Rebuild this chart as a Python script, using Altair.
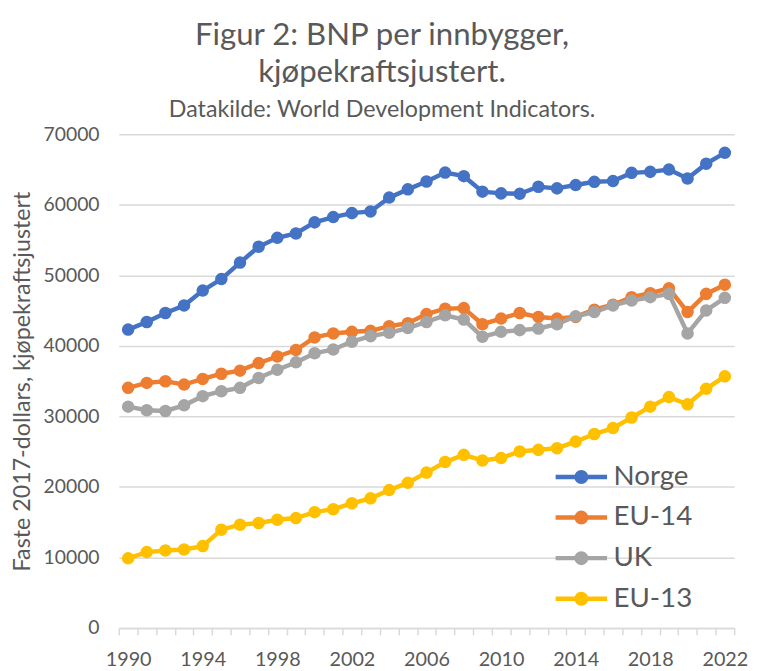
import altair as alt
import pandas as pd

years = list(range(1990, 2023))
series_names = ["Norge", "EU-14", "UK", "EU-13"]
series_colors = ["#4472C4", "#ED7D31", "#A5A5A5", "#FFC000"]

norge = [42300, 43380, 44650, 45720, 47830, 49460, 51800, 54040, 55310, 55920,
         57500, 58250, 58810, 59050, 61010, 62180, 63300, 64560, 64050, 61850,
         61610, 61550, 62550, 62320, 62790, 63250, 63350, 64520, 64660, 64980,
         63720, 65820, 67360]
eu14 = [34040, 34740, 34970, 34500, 35300, 36040, 36470, 37550, 38480, 39400,
        41190, 41750, 41980, 42120, 42780, 43200, 44500, 45260, 45340, 43060,
        43860, 44650, 44090, 43860, 44090, 45120, 45820, 46890, 47450, 48150,
        44780, 47360, 48670]
uk = [31370, 30860, 30760, 31560, 32860, 33560, 34040, 35440, 36610, 37650,
      38940, 39480, 40580, 41370, 41840, 42520, 43380, 44320, 43720, 41280,
      41980, 42220, 42450, 43060, 44180, 44780, 45720, 46420, 46890, 47360,
      41750, 45020, 46800]
eu13 = [9860, 10750, 10980, 11120, 11600, 13930, 14630, 14870, 15330, 15570,
        16410, 16830, 17670, 18370, 19540, 20570, 22020, 23520, 24540, 23740,
        24080, 25010, 25250, 25480, 26410, 27490, 28330, 29830, 31370, 32720,
        31700, 33900, 35670]

rows = []
for i, (name, vals) in enumerate(zip(series_names, [norge, eu14, uk, eu13])):
    for y, v in zip(years, vals):
        rows.append({"year": y, "value": v, "series": name, "ord": i})
df = pd.DataFrame(rows)

txt = "#595959"
font = "Lato"

legend_path = ("M-2,0L2,0 "
               "M0.37,0A0.37,0.37 0 1,1 -0.37,0A0.37,0.37 0 1,1 0.37,0 "
               "M0.19,0A0.19,0.19 0 1,1 -0.19,0A0.19,0.19 0 1,1 0.19,0 "
               "M0.05,0A0.05,0.05 0 1,1 -0.05,0A0.05,0.05 0 1,1 0.05,0")

chart = alt.Chart(df).mark_line(
    strokeWidth=4.5,
    point=alt.OverlayMarkDef(filled=True, size=160, opacity=1),
).encode(
    x=alt.X("year:O",
            scale=alt.Scale(type="band", paddingInner=0, paddingOuter=0),
            axis=alt.Axis(title=None, tickBand="extent", labelAngle=0,
                          labelExpr="datum.value % 4 == 2 ? datum.label : ''",
                          labelOverlap=False, labelFontSize=20, labelColor=txt,
                          labelFont=font, labelPadding=15,
                          domainColor="#d9d9d9", domainWidth=1.5,
                          tickColor="#d9d9d9", tickSize=7, tickWidth=1.5)),
    y=alt.Y("value:Q",
            scale=alt.Scale(domain=[0, 70000], nice=False),
            axis=alt.Axis(values=list(range(0, 70001, 10000)), format="d",
                          domain=False, ticks=False, grid=True,
                          gridColor="#d9d9d9", gridWidth=1.5,
                          labelFontSize=19.5, labelColor=txt, labelFont=font,
                          labelPadding=20,
                          title="Faste 2017-dollars, kjøpekraftsjustert",
                          titleFontSize=23.5, titleFontWeight="normal",
                          titleColor=txt, titleFont=font, titlePadding=9)),
    color=alt.Color("series:N",
                    scale=alt.Scale(domain=series_names, range=series_colors),
                    legend=alt.Legend(title=None, orient="none",
                                      legendX=452, legendY=331,
                                      symbolType=legend_path, symbolSize=676,
                                      symbolStrokeWidth=4.5,
                                      labelFontSize=28, labelColor=txt,
                                      labelFont=font, labelOffset=17,
                                      rowPadding=11, padding=0)),
    order=alt.Order("ord:Q"),
).properties(
    width=622,
    height=499,
    title=alt.TitleParams(
        text=["Figur 2: BNP per innbygger,", "kjøpekraftsjustert."],
        subtitle="Datakilde: World Development Indicators.",
        fontSize=31.5, font=font, fontWeight="normal", color=txt,
        subtitleFontSize=23.5, subtitleFont=font, subtitleColor=txt,
        anchor="middle", dx=-45, lineHeight=37, subtitlePadding=10, offset=3),
    autosize=alt.AutoSizeParams(type="none"),
    padding={"left": 112, "top": 124, "right": 17, "bottom": 40},
).configure_view(stroke=None)

chart.save("out.html", embed_options={"renderer": "svg", "actions": False})
